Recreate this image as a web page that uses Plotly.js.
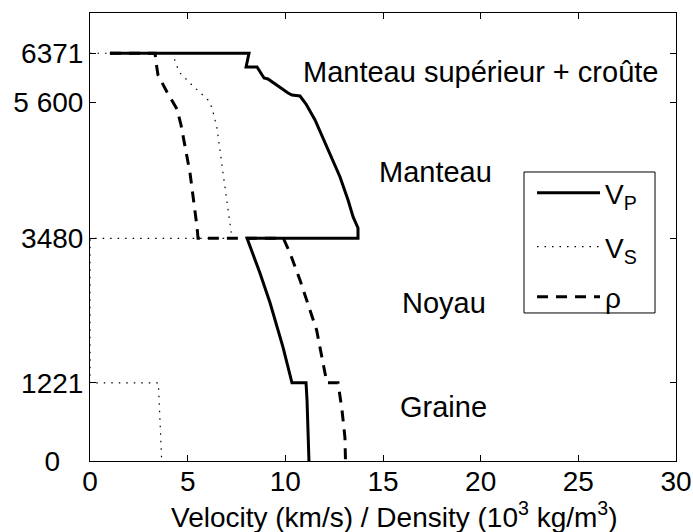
<!DOCTYPE html>
<html>
<head>
<meta charset="utf-8">
<script src="https://cdn.plot.ly/plotly-3.0.1.min.js"></script>
<style>html,body{margin:0;padding:0;background:#fff;}#chart{width:693px;height:532px;}</style>
</head>
<body>
<div id="chart"></div>
<script>
// P-wave velocity (km/s) vs radius (km)
const vpRadius = [6371, 6371, 6156, 6156, 5984, 5969, 5750, 5719, 5703, 5578, 5328, 5016, 4703, 4438, 4078, 3813, 3641, 3480, 3480, 2937, 2469, 1781, 1221, 1221, 953, 531, 0];
const vpValue  = [1.02, 8.14, 7.99, 8.55, 8.91, 9.11, 10.14, 10.34, 10.75, 11.06, 11.52, 11.98, 12.44, 12.80, 13.21, 13.47, 13.72, 13.72, 8.04, 8.70, 9.22, 9.88, 10.34, 11.06, 11.11, 11.16, 11.21];
// S-wave velocity (km/s) vs radius (km)
const vsRadius = [6371, 6371, 6234, 6063, 5875, 5719, 5641, 5516, 5328, 5203, 4500, 3719, 3531, 3480, 3480, 1221, 1221, 600, 0];
const vsValue  = [0, 4.30, 4.35, 4.61, 5.22, 5.73, 6.04, 6.25, 6.40, 6.50, 6.81, 7.17, 7.27, 7.27, 0, 0, 3.50, 3.60, 3.67];
// Density (10^3 kg/m^3) vs radius (km)
const rhoRadius = [6371, 6371, 6234, 6031, 5766, 5500, 5250, 4500, 3656, 3480, 3480, 3250, 2828, 2047, 1531, 1221, 1221, 797, 375, 0];
const rhoValue  = [1.02, 3.33, 3.38, 3.48, 3.94, 4.45, 4.66, 5.12, 5.48, 5.53, 9.90, 10.24, 10.75, 11.60, 11.93, 12.13, 12.70, 12.90, 13.05, 13.08];

const yTickVals = [0, 1221, 3480, 5600, 6371];
const yTickText = ['0\u00a0\u00a0\u00a0', '1221', '3480', '5 600', '6371'];
const xTickVals = [0, 5, 10, 15, 20, 25, 30];
const xTitle = 'Velocity (km/s) / Density (10<sup>3</sup> kg/m<sup>3</sup>)';

const regionNames = ['Manteau supérieur + croûte', 'Manteau', 'Noyau', 'Graine'];
const regionX = [20.0, 17.7, 18.1, 18.1];
const regionY = [6078, 4516, 2469, 844];

const FONT = '"Liberation Sans", Arial, Helvetica, sans-serif';

const traces = [
  {x: vpValue, y: vpRadius, mode: 'lines', name: 'V<sub>P</sub>', legend: 'legend',
   line: {color: '#000', width: 3, dash: 'solid'}},
  {x: vsValue, y: vsRadius, mode: 'lines', name: 'V<sub>S</sub>', legend: 'legend2',
   line: {color: '#000', width: 1.2, dash: '1.5px,6px'}},
  {x: rhoValue, y: rhoRadius, mode: 'lines', name: 'ρ', legend: 'legend3',
   line: {color: '#000', width: 3, dash: '11px,8px'}}
];

function legendAt(yp) {
  return {x: 0.7543, y: yp, xanchor: 'left', yanchor: 'middle',
    borderwidth: 0, bgcolor: 'rgba(0,0,0,0)',
    font: {family: FONT, size: 28, color: '#000'}, itemwidth: 63};
}

const annotations = regionNames.map((t, i) => ({x: regionX[i], y: regionY[i], text: t, showarrow: false,
  xref: 'x', yref: 'y', font: {family: FONT, size: 29, color: '#000'}}));
annotations.push({x: 0.5196, y: -0.1205, xref: 'paper', yref: 'paper', xanchor: 'center', yanchor: 'middle',
  text: xTitle, showarrow: false, font: {family: FONT, size: 28, color: '#000'}});

const layout = {
  width: 693, height: 532,
  margin: {l: 90, r: 17, t: 13, b: 71},
  paper_bgcolor: '#fff', plot_bgcolor: '#fff',
  font: {family: FONT, size: 28, color: '#000'},
  showlegend: true,
  legend: legendAt(0.5982),
  legend2: legendAt(0.4777),
  legend3: legendAt(0.3661),
  shapes: [{type: 'rect', xref: 'paper', yref: 'paper', x0: 0.7406, x1: 0.9642, y0: 0.3304, y1: 0.6451,
    line: {color: '#000', width: 1}, fillcolor: '#fff', layer: 'above'}],
  xaxis: {range: [0, 30], tickvals: xTickVals, ticks: 'inside', ticklen: 6,
    tickcolor: '#000', showline: true, linecolor: '#000', linewidth: 1, mirror: 'ticks',
    showgrid: false, zeroline: false, tickfont: {size: 28}, ticklabelstandoff: -5},
  yaxis: {range: [0, 7000], tickvals: yTickVals, ticktext: yTickText, ticks: 'inside', ticklen: 6,
    tickcolor: '#000', showline: true, linecolor: '#000', linewidth: 1, mirror: 'ticks',
    showgrid: false, zeroline: false, tickfont: {size: 28}},
  annotations: annotations
};

Plotly.newPlot('chart', traces, layout, {displayModeBar: false, staticPlot: true});
</script>
</body>
</html>
